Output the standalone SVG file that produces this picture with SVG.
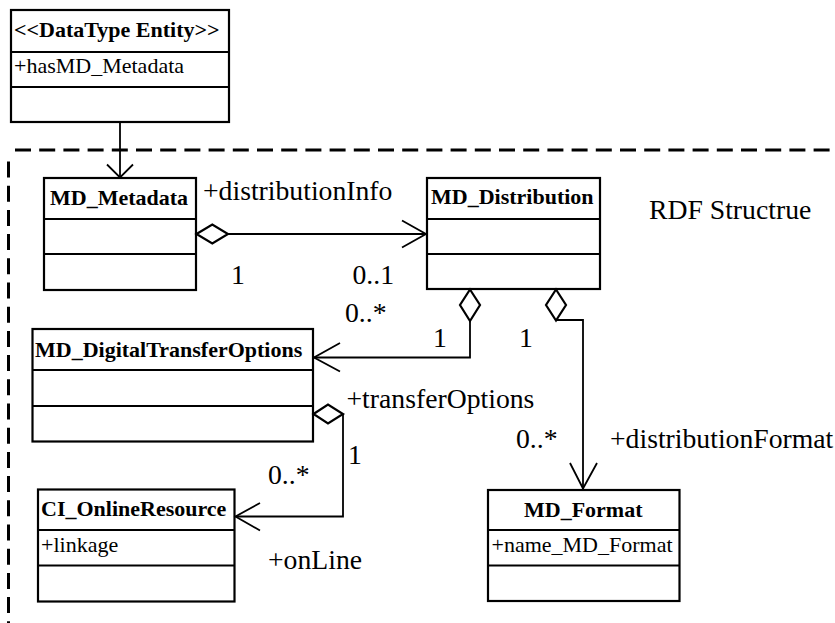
<svg xmlns="http://www.w3.org/2000/svg" width="835" height="623" viewBox="0 0 835 623">
  <style>
    text { font-family: 'Liberation Serif', 'Times New Roman', Times, serif; fill: #000; }
    .box { fill: #fff; stroke: #000; stroke-width: 2.2; }
    .sep { stroke: #000; stroke-width: 2.2; }
    .title { font-weight: bold; font-size: 22px; }
    .attr { font-size: 22px; }
    .lbl { font-size: 27.7px; }
    .wire { fill: none; stroke: #000; stroke-width: 1.8; }
    .diamond { fill: #fff; stroke: #000; stroke-width: 2.2; stroke-linejoin: miter; }
    .frame { fill: none; stroke: #000; stroke-width: 3; stroke-dasharray: 16 8.2; }
  </style>

  <!-- package boundary -->
  <g id="rdf-frame">
    <line class="frame" x1="15" y1="150" x2="835" y2="150"/>
    <line class="frame" x1="8.5" y1="161.5" x2="8.5" y2="623"/>
    <text class="lbl" x="649" y="219">RDF Structrue</text>
  </g>

  <!-- classes -->
  <g id="datatype-entity">
    <rect class="box" x="11" y="10" width="218" height="112"/>
    <line class="sep" x1="11" y1="52" x2="229" y2="52"/>
    <line class="sep" x1="11" y1="87" x2="229" y2="87"/>
    <text class="title" x="14" y="36.5">&lt;&lt;DataType Entity&gt;&gt;</text>
    <text class="attr" x="14" y="73">+hasMD_Metadata</text>
  </g>

  <g id="md-metadata">
    <rect class="box" x="44" y="178" width="152" height="112"/>
    <line class="sep" x1="44" y1="219" x2="196" y2="219"/>
    <line class="sep" x1="44" y1="254" x2="196" y2="254"/>
    <text class="title" x="50" y="205">MD_Metadata</text>
  </g>

  <g id="md-distribution">
    <rect class="box" x="427" y="178" width="173" height="111"/>
    <line class="sep" x1="427" y1="219" x2="600" y2="219"/>
    <line class="sep" x1="427" y1="254" x2="600" y2="254"/>
    <text class="title" x="431" y="204">MD_Distribution</text>
  </g>

  <g id="md-digital-transfer-options">
    <rect class="box" x="32.5" y="329" width="280.5" height="112.5"/>
    <line class="sep" x1="32.5" y1="370" x2="313" y2="370"/>
    <line class="sep" x1="32.5" y1="406" x2="313" y2="406"/>
    <text class="title" x="35" y="357">MD_DigitalTransferOptions</text>
  </g>

  <g id="ci-online-resource">
    <rect class="box" x="38" y="489.5" width="196.5" height="112"/>
    <line class="sep" x1="38" y1="530" x2="234.5" y2="530"/>
    <line class="sep" x1="38" y1="565.5" x2="234.5" y2="565.5"/>
    <text class="title" x="41" y="516">CI_OnlineResource</text>
    <text class="attr" x="41" y="551.5">+linkage</text>
  </g>

  <g id="md-format">
    <rect class="box" x="488" y="490" width="191.5" height="111"/>
    <line class="sep" x1="488" y1="530" x2="679.5" y2="530"/>
    <line class="sep" x1="488" y1="565.5" x2="679.5" y2="565.5"/>
    <text class="title" x="524" y="516.5">MD_Format</text>
    <text class="attr" x="491.5" y="552">+name_MD_Format</text>
  </g>

  <!-- associations -->
  <g id="connectors">
    <!-- DataType Entity to MD_Metadata -->
    <line class="wire" x1="120" y1="122" x2="120" y2="177"/>
    <polyline class="wire" points="107,164.5 120,177.5 133,164.5"/>

    <!-- distributionInfo -->
    <line class="wire" x1="228" y1="234" x2="426" y2="234"/>
    <polyline class="wire" points="402,220.5 426,234 402,247.5"/>
    <polygon class="diamond" points="196.5,234 212.3,224.5 228,234 212.3,243.5"/>

    <!-- transferOptions -->
    <polyline class="wire" points="470,321 470,357.5 314,357.5"/>
    <polyline class="wire" points="340,343 314,357.5 340,371.5"/>
    <polygon class="diamond" points="470,289.5 480,305 470,321 460,305"/>

    <!-- distributionFormat -->
    <polyline class="wire" points="556,320 583,320 583,489"/>
    <polyline class="wire" points="570,463 583,488.5 597,463"/>
    <polygon class="diamond" points="556,289.5 566,305 556,320.5 546,305"/>

    <!-- onLine -->
    <polyline class="wire" points="343,414 343,516.5 235.5,516.5"/>
    <polyline class="wire" points="260,503 235.5,516.5 260,530.5"/>
    <polygon class="diamond" points="313.5,414 328,404.5 343,414 328,423.5"/>
  </g>

  <!-- role names and multiplicities -->
  <g id="labels">
    <text class="lbl" x="203" y="200">+distributionInfo</text>
    <text class="lbl" x="231" y="284">1</text>
    <text class="lbl" x="352.5" y="284">0..1</text>
    <text class="lbl" x="345" y="321.5">0..*</text>
    <text class="lbl" x="433" y="346.5">1</text>
    <text class="lbl" x="519" y="346.5">1</text>
    <text class="lbl" x="346.5" y="408">+transferOptions</text>
    <text class="lbl" x="348" y="464">1</text>
    <text class="lbl" x="268" y="483.5">0..*</text>
    <text class="lbl" x="268" y="568.5">+onLine</text>
    <text class="lbl" x="516" y="447.5">0..*</text>
    <text class="lbl" x="610" y="447.5">+distributionFormat</text>
  </g>
</svg>
